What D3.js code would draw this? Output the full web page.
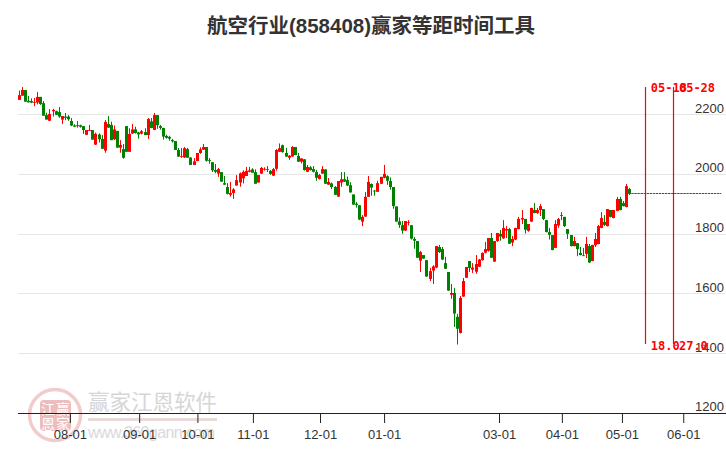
<!DOCTYPE html>
<html><head><meta charset="utf-8">
<script src="https://cdnjs.cloudflare.com/ajax/libs/d3/7.8.5/d3.min.js"></script>
<style>html,body{margin:0;padding:0;background:#fff}svg{display:block}</style></head>
<body><svg id="c" width="726" height="450"></svg>
<script>
const opens=[2250,2264,2283,2247,2246,2241,2241,2260,2239,2199,
2180,2212,2212,2209,2184,2194,2194,2179,2164,2162,
2165,2162,2133,2147,2149,2100,2134,2119,2080,2169,
2166,2118,2146,2090,2085,2162,2076,2137,2151,2141,
2137,2142,2132,2178,2149,2199,2162,2156,2129,2126,
2115,2112,2082,2060,2057,2085,2057,2032,2045,2072,
2083,2092,2048,2041,2015,2003,2008,1971,1958,1932,
1938,1963,1973,1987,1995,2009,2017,2008,1973,2003,
2017,2018,2012,1996,2019,2076,2098,2072,2056,2060,
2092,2062,2043,2051,2009,2024,2018,2008,1985,2003,
2017,1966,1970,1958,1926,1973,1984,1981,1964,1933,
1902,1897,1842,1859,1925,1968,1946,1942,1969,1989,
1994,1978,1958,1893,1843,1830,1812,1837,1830,1784,
1777,1711,1730,1713,1650,1678,1688,1757,1750,1703,
1673,1597,1603,1523,1469,1591,1654,1710,1681,1674,
1691,1713,1738,1744,1787,1708,1777,1801,1786,1812,
1817,1772,1782,1817,1849,1851,1811,1842,1881,1871,
1881,1884,1847,1807,1797,1754,1829,1864,1858,1817,
1797,1760,1770,1737,1729,1734,1760,1710,1763,1767,
1821,1841,1827,1881,1854,1878,1918,1904,1891,1951];
const closes=[2266,2283,2244,2242,2241,2243,2260,2236,2197,2184,
2203,2216,2200,2194,2196,2190,2185,2164,2160,2165,
2160,2149,2149,2149,2117,2136,2118,2086,2176,2157,
2115,2151,2090,2099,2056,2076,2136,2151,2139,2134,
2145,2132,2186,2156,2199,2165,2156,2127,2123,2120,
2111,2082,2060,2062,2088,2056,2032,2044,2072,2084,
2092,2046,2046,2014,2009,2018,1976,1966,1935,1938,
1950,1981,2004,2009,2012,2014,2006,1969,1998,2022,
2019,2017,2002,2018,2082,2088,2075,2060,2063,2092,
2065,2043,2054,2015,2025,2015,2009,1989,1998,2018,
1969,1975,1958,1932,1978,1984,1976,1963,1940,1899,
1898,1849,1858,1925,1975,1956,1945,1971,1992,2002,
1979,1958,1894,1842,1831,1812,1844,1840,1785,1778,
1721,1740,1718,1658,1676,1692,1760,1740,1715,1684,
1611,1603,1534,1483,1586,1643,1690,1687,1688,1700,
1715,1737,1750,1787,1721,1777,1804,1792,1821,1817,
1768,1784,1821,1851,1854,1815,1834,1888,1871,1881,
1894,1851,1807,1798,1747,1834,1851,1863,1827,1801,
1760,1777,1750,1730,1727,1767,1705,1764,1784,1827,
1854,1831,1884,1858,1881,1918,1881,1894,1961,1935];
const highs=[2281,2293,2283,2263,2255,2256,2276,2260,2246,2207,
2219,2220,2214,2226,2196,2206,2199,2189,2168,2179,
2167,2162,2149,2166,2149,2140,2138,2132,2182,2196,
2177,2164,2146,2115,2102,2162,2155,2169,2160,2143,
2149,2155,2189,2189,2206,2199,2166,2156,2133,2130,
2119,2112,2089,2089,2092,2089,2057,2055,2072,2091,
2102,2092,2055,2041,2035,2022,2008,1995,1971,1975,
1954,1998,2007,2014,2025,2025,2021,2017,1998,2025,
2024,2028,2015,2022,2085,2104,2100,2089,2065,2095,
2092,2072,2054,2051,2032,2028,2028,2015,2002,2028,
2017,1988,1973,1961,1978,2008,2008,1993,1974,1933,
1908,1897,1864,1941,1995,1970,1948,1979,1992,2032,
1997,1990,1958,1893,1856,1844,1844,1847,1830,1791,
1777,1744,1730,1713,1687,1696,1760,1764,1757,1724,
1673,1633,1620,1533,1593,1653,1690,1710,1703,1730,
1717,1739,1774,1787,1804,1777,1804,1814,1847,1827,
1821,1794,1821,1858,1881,1851,1834,1888,1904,1888,
1901,1884,1847,1821,1797,1847,1854,1874,1858,1817,
1797,1791,1770,1757,1754,1791,1767,1764,1804,1831,
1874,1864,1884,1881,1881,1925,1925,1911,1968,1955];
const lows=[2250,2264,2244,2241,2239,2229,2235,2233,2197,2184,
2180,2194,2199,2190,2169,2182,2180,2162,2159,2157,
2157,2136,2132,2146,2116,2099,2107,2085,2073,2156,
2115,2115,2090,2073,2053,2076,2076,2136,2137,2120,
2134,2132,2119,2155,2149,2153,2150,2117,2120,2113,
2107,2082,2059,2056,2055,2056,2032,2032,2045,2069,
2082,2043,2036,2008,2004,1992,1976,1965,1933,1926,
1918,1963,1959,1970,1995,2007,2006,1969,1973,2002,
2013,2008,1999,1995,2013,2076,2073,2059,2049,2060,
2065,2042,2037,2013,2008,2013,2007,1979,1983,2002,
1969,1965,1951,1931,1925,1959,1975,1961,1939,1899,
1889,1847,1827,1858,1925,1929,1929,1941,1968,1987,
1965,1949,1885,1842,1821,1801,1811,1829,1782,1751,
1720,1673,1717,1657,1643,1633,1686,1737,1713,1683,
1610,1583,1489,1430,1467,1590,1653,1673,1670,1667,
1690,1711,1735,1741,1720,1707,1774,1778,1784,1787,
1767,1760,1780,1816,1834,1802,1808,1841,1870,1868,
1861,1847,1806,1782,1746,1753,1821,1847,1824,1784,
1759,1759,1726,1729,1727,1720,1703,1709,1757,1766,
1820,1827,1826,1856,1853,1877,1880,1893,1890,1931];
const priceTicks=[1200,1400,1600,1800,2000,2200];
const dateLabels=["08-01","09-01","10-01","11-01","12-01","01-01","03-01","04-01","05-01","06-01"];
const dateSlots=[16.5,39.1,58.1,76.2,98.1,119,156.5,177,196.6,216.6];
const lastClose=1937, flatEndSlot=229;
const markerSlots=[204.2,213.4], markerDates=["05-18","05-28"], markerCounts=["18.0","27.0"];
const markerTop=2293, markerBottom=1432;
const titleText="航空行业(858408)赢家等距时间工具";

const W=726,H=450,UP="#ff0000",DOWN="#008000";
const svg=d3.select("#c");
const x=d3.scaleLinear().domain([0,199]).range([19.33,629.3]);
const y=d3.scaleLinear().domain([1200,2200]).range([413.2,114.8]);
const snap=v=>Math.floor(v)+0.5;
const sans="'Liberation Sans','Noto Sans CJK SC',sans-serif";

// watermark
const wm=svg.append("g");
wm.append("circle").attr("cx",55).attr("cy",415).attr("r",25.5).attr("fill","none").attr("stroke","#f2cccc").attr("stroke-width",3.5);
wm.append("rect").attr("x",40).attr("y",400).attr("width",31).attr("height",31).attr("rx",4).attr("fill","#eebcbc");
[["江",48,414],["赢",63,414],["恩",48,429],["家",63,429]].forEach(d=>wm.append("text").attr("x",d[1]).attr("y",d[2]).attr("text-anchor","middle").attr("font-family","'Noto Sans CJK SC'").attr("font-size",14).attr("fill","#fff").text(d[0]));
wm.append("text").attr("x",88).attr("y",410).attr("font-family","'Noto Sans CJK SC'").attr("font-size",21.5).attr("fill","#d6d6d6").text("赢家江恩软件");
wm.append("rect").attr("x",88).attr("y",418).attr("width",129).attr("height",3).attr("fill","#ead9d9");
wm.append("text").attr("x",88).attr("y",438).attr("font-family",sans).attr("font-size",16).attr("textLength",127).attr("fill","#d9d9d9").text("www.360gann.com");

// grid + price axis
const yAxis=d3.axisRight(y).tickValues(priceTicks).tickSize(0).tickFormat(d3.format("d"));
svg.append("g").selectAll("line").data(priceTicks.filter(d=>d>1200)).join("line")
 .attr("x1",18).attr("x2",W).attr("y1",d=>snap(y(d))).attr("y2",d=>snap(y(d))).attr("stroke","#e6e6e6").attr("stroke-width",1);
const gy=svg.append("g").attr("transform",`translate(${W-2},0)`).call(yAxis);
gy.select(".domain").remove();
gy.selectAll("text").attr("x",0).attr("dy",-2.5).attr("text-anchor","end").attr("font-family",sans).attr("font-size",13).attr("fill","#333");

// date axis
const xAxis=d3.axisBottom(x).tickValues(dateSlots).tickSize(9.5).tickFormat((d,i)=>dateLabels[i]);
const gx=svg.append("g").attr("transform",`translate(0,${snap(y(1200))})`).call(xAxis);
gx.select(".domain").remove();
gx.selectAll(".tick line").attr("stroke","#222");
gx.selectAll("text").attr("y",16.5).attr("font-family",sans).attr("font-size",13).attr("fill","#333");
svg.append("line").attr("x1",18).attr("x2",W).attr("y1",snap(y(1200))).attr("y2",snap(y(1200))).attr("stroke","#222");

// candles
const idx=d3.range(opens.length);
const col=i=>closes[i]>=opens[i]?UP:DOWN;
svg.append("g").selectAll("line").data(idx).join("line")
 .attr("x1",i=>snap(x(i))).attr("x2",i=>snap(x(i))).attr("y1",i=>y(highs[i])).attr("y2",i=>y(lows[i])).attr("stroke",col).attr("stroke-width",1);
svg.append("g").selectAll("rect").data(idx).join("rect")
 .attr("x",i=>snap(x(i))-1.5).attr("width",3)
 .attr("y",i=>y(Math.max(opens[i],closes[i])))
 .attr("height",i=>Math.max(0.8,Math.abs(y(opens[i])-y(closes[i])))).attr("fill",col);

// flat forward line
svg.append("line").attr("x1",x(199)+2).attr("x2",x(flatEndSlot)).attr("y1",snap(y(lastClose))).attr("y2",snap(y(lastClose)))
 .attr("stroke",DOWN).attr("stroke-width",1).attr("stroke-dasharray","2.4,0.66");

// markers
const mono="'DejaVu Sans Mono',monospace";
markerSlots.forEach((s,i)=>{
 svg.append("rect").attr("x",snap(x(s))-0.6).attr("width",1.2).attr("y",y(markerTop)).attr("height",y(markerBottom)-y(markerTop)).attr("fill","#ff0000");
 svg.append("text").attr("x",x(s)+5.5).attr("y",92).attr("font-family",mono).attr("font-weight","bold").attr("font-size",12).attr("fill",UP).text(markerDates[i]);
 svg.append("text").attr("x",x(s)+5.5).attr("y",349.5).attr("font-family",mono).attr("font-weight","bold").attr("font-size",12).attr("fill",UP).text(markerCounts[i]);
});

// title
svg.append("text").attr("x",371).attr("y",33).attr("text-anchor","middle").attr("font-family",sans).attr("font-weight","bold").attr("font-size",20.5).attr("fill","#333").text(titleText);
</script></body></html>
